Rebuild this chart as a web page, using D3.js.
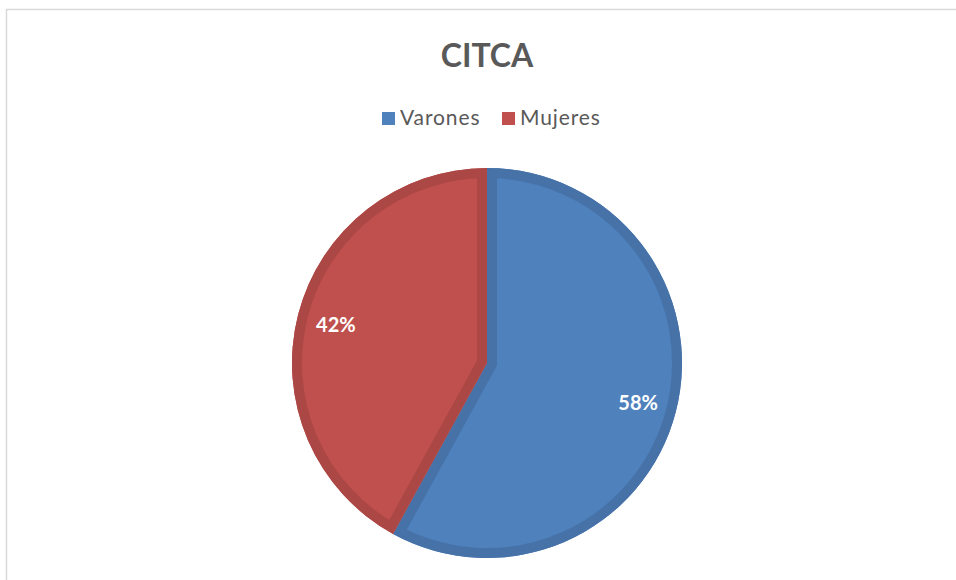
<!DOCTYPE html>
<html>
<head>
<meta charset="utf-8">
<script src="https://cdn.jsdelivr.net/npm/d3@7/dist/d3.min.js"></script>
<style>
  html, body { margin: 0; padding: 0; background: #fff; }
  svg { display: block; }
</style>
</head>
<body>
<svg id="chart" width="956" height="580"></svg>
<script>
const title = "CITCA";
const categories = ["Varones", "Mujeres"];
const values = [58, 42];
const fillColors = ["#4f81bd", "#c0504d"];
const edgeColors = ["#4672a8", "#ab4744"];

const W = 956, H = 580;
const svg = d3.select("#chart");
const font = "Lato, 'Open Sans', sans-serif";

// chart frame
svg.append("path")
  .attr("d", `M6.5,${H} L6.5,9.5 L${W},9.5`)
  .attr("fill", "none").attr("stroke", "#d9d9d9").attr("stroke-width", 1.5);

// title
svg.append("text")
  .attr("x", 487).attr("y", 67)
  .attr("text-anchor", "middle")
  .attr("font-family", font).attr("font-weight", "bold")
  .attr("font-size", 32).attr("fill", "#595959")
  .text(title);

// legend
const legendX = [382, 502];
categories.forEach((c, i) => {
  const g = svg.append("g").attr("transform", `translate(${legendX[i]},112)`);
  g.append("rect").attr("width", 13).attr("height", 13).attr("fill", fillColors[i]);
  g.append("text").attr("x", 18).attr("y", 13)
    .attr("font-family", font).attr("font-size", 21).attr("letter-spacing", 0.9)
    .attr("fill", "#595959")
    .text(c);
});

// pie
const cx = 487, cy = 363, r = 195;
const pie = d3.pie().sort(null).value(d => d)(values);
const arc = d3.arc().innerRadius(0).outerRadius(r);
const g = svg.append("g").attr("transform", `translate(${cx},${cy})`);
const defs = svg.append("defs");

pie.forEach((p, i) => {
  const d = arc(p);
  defs.append("clipPath").attr("id", "clip" + i).append("path").attr("d", d);
  g.append("path").attr("d", d).attr("fill", fillColors[i]);
  g.append("path").attr("d", d)
    .attr("fill", "none").attr("stroke", edgeColors[i])
    .attr("stroke-width", 20).attr("stroke-linejoin", "miter")
    .attr("clip-path", `url(#clip${i})`);
});

const labelArc = d3.arc().innerRadius(r * 0.8).outerRadius(r * 0.8);
pie.forEach((p, i) => {
  const [x, y] = labelArc.centroid(p);
  g.append("text")
    .attr("x", x).attr("y", y)
    .attr("text-anchor", "middle").attr("dominant-baseline", "central")
    .attr("font-family", font).attr("font-weight", "bold")
    .attr("font-size", 20).attr("fill", "#ffffff")
    .text(values[i] + "%");
});
</script>
</body>
</html>
